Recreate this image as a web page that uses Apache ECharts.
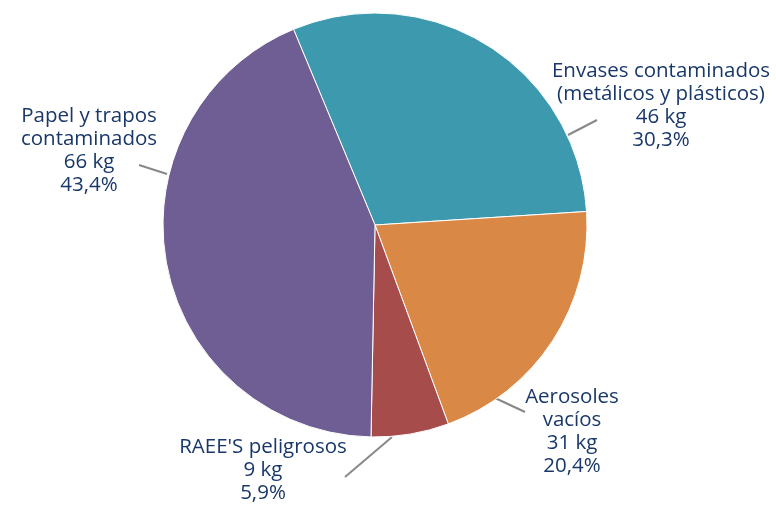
<!DOCTYPE html>
<html>
<head>
<meta charset="utf-8">
<script src="https://cdn.jsdelivr.net/npm/echarts@6/dist/echarts.min.js"></script>
<style>
  html, body { margin: 0; padding: 0; background: #fff; }
  #chart { width: 776px; height: 505px; }
</style>
</head>
<body>
<div id="chart"></div>
<script>
const categories = ['Envases contaminados\n(metálicos y plásticos)', 'Aerosoles\nvacíos', "RAEE'S peligrosos", 'Papel y trapos\ncontaminados']
const values = [46, 31, 9, 66]
const colors = ['#3d9aae', '#d98845', '#a64c4b', '#6e5e93']

// where each label sits (center) and its leader line
const labelPos = [[661, 106], [572, 432], [263, 470], [89, 151]]
const leaders = [
    [[568, 135], [597, 120]],
    [[495, 398], [525, 412]],
    [[392, 437], [345, 477]],
    [[167, 174], [139, 165]]
]

const total = values.reduce((a, b) => a + b, 0)
const chart = echarts.init(document.getElementById('chart'))

const option = {
    animation: false,
    color: colors,
    series: [{
        type: 'pie',
        center: [375, 225],
        radius: 212,
        startAngle: 112.6,
        clockwise: true,
        itemStyle: { borderColor: '#ffffff', borderWidth: 1 },
        label: {
            show: true,
            position: 'outside',
            color: '#193869',
            fontFamily: 'Open Sans',
            fontSize: 20.5,
            lineHeight: 23,
            align: 'center',
            overflow: 'none',
            edgeDistance: 0,
            formatter: p => p.name + '\n' + p.value + ' kg\n' +
                (p.value / total * 100).toFixed(1).replace('.', ',') + '%'
        },
        labelLine: {
            show: true,
            length: 20,
            length2: 0,
            lineStyle: { color: '#888888', width: 2 }
        },
        labelLayout: p => ({
            x: labelPos[p.dataIndex][0],
            y: labelPos[p.dataIndex][1],
            align: 'center',
            verticalAlign: 'middle',
            labelLinePoints: leaders[p.dataIndex]
        }),
        data: categories.map((c, i) => ({ name: c, value: values[i] }))
    }]
}
chart.setOption(option)
</script>
</body>
</html>
